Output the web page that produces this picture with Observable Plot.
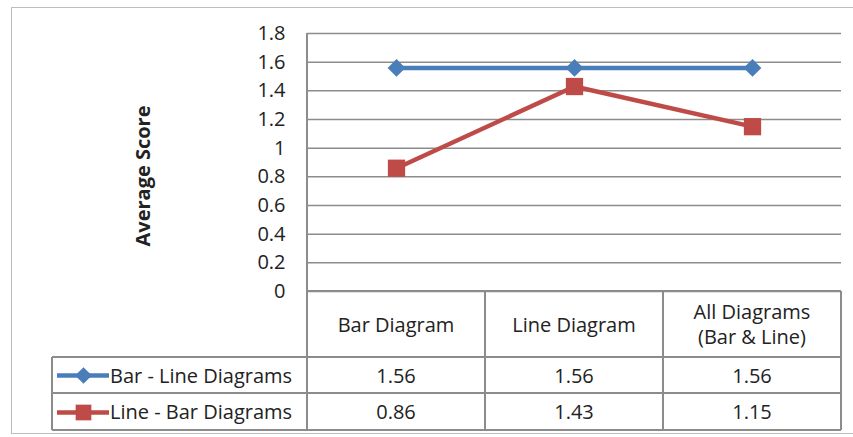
<!DOCTYPE html>
<html><head><meta charset="utf-8">
<script src="https://cdn.jsdelivr.net/npm/d3@7"></script>
<script src="https://cdn.jsdelivr.net/npm/@observablehq/plot@0.6"></script>
<style>
html,body{margin:0;padding:0;background:#fff;}
#wrap{position:relative;width:853px;height:437px;overflow:hidden;font-family:"Open Sans",sans-serif;color:#222;}
.abs{position:absolute;box-sizing:border-box;}
.cell{position:absolute;box-sizing:border-box;display:flex;align-items:center;justify-content:center;text-align:center;font-size:20px;line-height:25px;white-space:nowrap;}
svg.mainchart text{font-size:20px !important;font-family:"Open Sans",sans-serif !important;}
</style>
</head><body>
<div id="wrap"></div>
<script>
const categories = ["Bar Diagram", "Line Diagram", "All Diagrams (Bar & Line)"];
const headerLines = [["Bar Diagram"], ["Line Diagram"], ["All Diagrams", "(Bar & Line)"]];
const seriesNames = ["Bar - Line Diagrams", "Line - Bar Diagrams"];
const barLine = [1.56, 1.56, 1.56];
const lineBar = [0.86, 1.43, 1.15];
const yTicks = [0, 0.2, 0.4, 0.6, 0.8, 1, 1.2, 1.4, 1.6, 1.8];
const yTickLabels = ["0", "0.2", "0.4", "0.6", "0.8", "1", "1.2", "1.4", "1.6", "1.8"];
const colors = ["#4a7ebb", "#be4b48"];

const data = [];
categories.forEach((c, i) => {
  data.push({cat: c, series: seriesNames[0], value: barLine[i]});
  data.push({cat: c, series: seriesNames[1], value: lineBar[i]});
});
const tickData = yTicks.map((v, i) => ({value: v, label: yTickLabels[i]}));

const wrap = document.getElementById("wrap");

// outer border
const ob = document.createElement("div");
ob.className = "abs";
Object.assign(ob.style, {left: "11px", top: "7px", width: "860px", height: "427px", border: "1.5px solid #bdbdbd"});
wrap.appendChild(ob);

const W = 853, H = 300;
const chart = Plot.plot({
  width: W, height: H,
  marginLeft: 307, marginRight: 12, marginTop: 33, marginBottom: 9,
  style: {fontFamily: "'Open Sans', sans-serif", fontSize: "20px", color: "#222", background: "transparent", overflow: "visible"},
  x: {type: "point", domain: categories, padding: 0.5, axis: null},
  y: {domain: [0, 1.8], axis: null},
  color: {domain: seriesNames, range: colors},
  marks: [
    Plot.ruleY(yTicks, {stroke: "#8c8c8c", strokeWidth: 1.5, strokeOpacity: 1}),
    Plot.text(tickData, {y: "value", text: "label", frameAnchor: "left", textAnchor: "end", dx: -22, fontSize: 20, fill: "#222"}),
    Plot.line(data.filter(d => d.series === seriesNames[0]), {x: "cat", y: "value", stroke: colors[0], strokeWidth: 4.5}),
    Plot.line(data.filter(d => d.series === seriesNames[1]), {x: "cat", y: "value", stroke: colors[1], strokeWidth: 4.5}),
    Plot.dot(data.filter(d => d.series === seriesNames[0]), {x: "cat", y: "value", symbol: "diamond2", r: 8, fill: colors[0], stroke: "none"}),
    Plot.dot(data.filter(d => d.series === seriesNames[1]), {x: "cat", y: "value", symbol: "square2", r: 11, fill: colors[1], stroke: "none"})
  ]
});
chart.classList.add("mainchart");
chart.style.position = "absolute";
chart.style.left = "0px";
chart.style.top = "0px";
wrap.appendChild(chart);

// y axis title
const yt = document.createElement("div");
yt.className = "abs";
yt.textContent = "Average Score";
Object.assign(yt.style, {left: "142px", top: "176px", transform: "translate(-50%,-50%) rotate(-90deg)", fontWeight: "bold", fontSize: "20px", whiteSpace: "nowrap"});
wrap.appendChild(yt);

// data table
const lineColor = "#8c8c8c";
const colX = [307, 485, 663, 841];
const rowY = [291, 357, 393, 430];
const legendLeft = 52;
function hline(x1, x2, y) {
  const d = document.createElement("div"); d.className = "abs";
  Object.assign(d.style, {left: x1 + "px", top: (y - 0.75) + "px", width: (x2 - x1) + "px", height: "1.5px", background: lineColor});
  wrap.appendChild(d);
}
function vline(x, y1, y2) {
  const d = document.createElement("div"); d.className = "abs";
  Object.assign(d.style, {left: (x - 0.75) + "px", top: y1 + "px", width: "1.5px", height: (y2 - y1) + "px", background: lineColor});
  wrap.appendChild(d);
}
vline(colX[0], 33, rowY[3]);
for (let i = 1; i < colX.length; i++) vline(colX[i], rowY[0], rowY[3]);
vline(legendLeft, rowY[1], rowY[3]);
hline(colX[0], colX[3], rowY[0]);
hline(legendLeft, colX[3], rowY[1]);
hline(legendLeft, colX[3], rowY[2]);
hline(legendLeft, colX[3], rowY[3]);

function cell(x1, x2, y1, y2, html, extra) {
  const d = document.createElement("div"); d.className = "cell";
  Object.assign(d.style, {left: x1 + "px", top: y1 + "px", width: (x2 - x1) + "px", height: (y2 - y1) + "px"}, extra || {});
  d.innerHTML = html;
  wrap.appendChild(d);
  return d;
}
headerLines.forEach((lines, i) => {
  cell(colX[i], colX[i + 1], rowY[0], rowY[1], lines.map(s => s.replace("&", "&amp;")).join("<br>"));
});
[barLine, lineBar].forEach((vals, r) => {
  vals.forEach((v, i) => cell(colX[i], colX[i + 1], rowY[r + 1], rowY[r + 2], v.toFixed(2)));
  // legend key
  const key = Plot.plot({
    width: 52, height: 30, margin: 0,
    x: {domain: [0, 1], axis: null}, y: {domain: [0, 1], axis: null},
    style: {background: "transparent"},
    marks: [
      Plot.ruleY([0.5], {x1: 0, x2: 1, stroke: colors[r], strokeWidth: 4.5}),
      Plot.dot([{x: 0.5, y: 0.5}], {x: "x", y: "y", symbol: r === 0 ? "diamond2" : "square2", r: r === 0 ? 7.5 : 10, fill: colors[r], stroke: "none"})
    ]
  });
  key.style.position = "absolute";
  key.style.left = "57px";
  key.style.top = (rowY[r + 1] + (rowY[r + 2] - rowY[r + 1]) / 2 - 15) + "px";
  wrap.appendChild(key);
  cell(110, colX[0], rowY[r + 1], rowY[r + 2], seriesNames[r], {justifyContent: "flex-start"});
});
</script>
</body></html>
